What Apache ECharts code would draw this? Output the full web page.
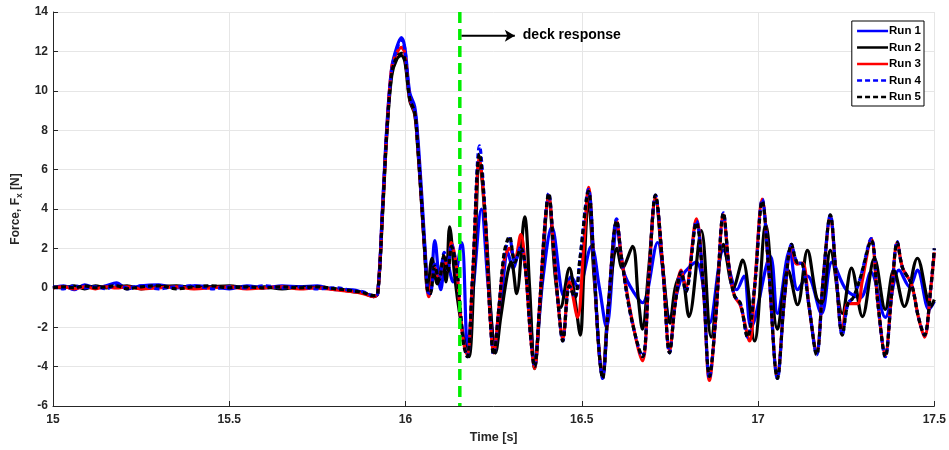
<!DOCTYPE html>
<html>
<head>
<meta charset="utf-8">
<script src="https://cdn.jsdelivr.net/npm/echarts@6/dist/echarts.min.js"></script>
<style>html,body{margin:0;padding:0;background:#fff}#c{width:949px;height:450px}</style>
</head>
<body>
<div id="c"></div>
<script>
// ---- data (time [s], force [N]) ----
const seriesNames = ['Run 1', 'Run 2', 'Run 3', 'Run 4', 'Run 5'];
const xTicks = [15, 15.5, 16, 16.5, 17, 17.5];
const yTicks = [-6, -4, -2, 0, 2, 4, 6, 8, 10, 12, 14];

const run1 = [
[15.00,0.0],[15.03,0.1],[15.06,-0.1],[15.09,0.15],[15.12,0.0],[15.15,0.1],[15.18,0.25],[15.21,-0.05],[15.25,0.1],[15.30,0.15],[15.35,0.0],[15.40,0.1],[15.45,0.05],[15.50,-0.05],[15.55,0.1],[15.60,0.0],[15.65,0.1],[15.70,0.05],[15.75,0.1],[15.80,-0.1],[15.85,-0.1],[15.88,-0.25],[15.91,-0.45],
[15.921,-0.3],[15.935,4.2],[15.947,8.2],[15.961,11.2],[15.975,12.2],[15.988,12.7],[15.998,12.2],[16.012,9.9],[16.026,9.2],[16.035,7.6],[16.045,5.0],[16.054,2.4],[16.063,0.2],
[16.07,0.0],[16.083,2.4],[16.10,-0.1],[16.115,1.5],[16.135,0.3],[16.159,2.3],[16.176,-3.0],[16.195,0.5],[16.215,4.0],[16.235,0.0],[16.255,-3.0],[16.275,0.0],[16.29,1.8],[16.305,1.0],[16.325,2.0],[16.345,0.5],[16.366,-3.6],[16.39,0.5],[16.415,3.1],[16.45,-0.45],[16.47,0.55],[16.49,0.0],[16.527,2.1],[16.55,0.0],[16.57,-2.0],[16.60,3.0],[16.62,0.75],[16.65,-0.3],[16.672,-0.76],[16.715,2.3],[16.75,-1.5],[16.785,0.6],[16.825,1.3],[16.862,-1.8],[16.902,1.9],[16.94,-0.1],[16.96,0.6],[16.98,-2.0],[17.035,1.6],[17.055,-1.3],[17.09,1.9],[17.112,-0.1],[17.14,0.6],[17.18,-1.3],[17.21,1.3],[17.25,-0.1],[17.29,-0.5],[17.32,0.8],[17.361,-1.5],[17.40,0.9],[17.43,0.05],[17.452,0.9],[17.485,-1.1],[17.50,-0.7]
];

const run2 = [
[15.00,0.05],[15.03,0.0],[15.06,0.1],[15.09,-0.05],[15.12,0.1],[15.15,0.0],[15.18,0.05],[15.21,0.1],[15.25,-0.05],[15.30,0.05],[15.35,0.1],[15.40,0.0],[15.45,0.05],[15.50,0.1],[15.55,0.0],[15.60,0.05],[15.65,-0.05],[15.70,0.05],[15.75,0.0],[15.80,-0.05],[15.85,-0.2],[15.88,-0.25],[15.91,-0.45],
[15.921,-0.3],[15.935,3.8],[15.947,7.8],[15.961,10.8],[15.975,11.6],[15.988,11.8],[15.998,11.5],[16.012,9.5],[16.026,8.8],[16.035,7.0],[16.045,4.4],[16.054,1.9],[16.063,-0.2],
[16.075,1.5],[16.09,0.2],[16.105,1.3],[16.115,0.3],[16.125,3.1],[16.14,0.5],[16.155,-1.5],[16.17,-3.0],[16.18,-3.5],[16.195,1.0],[16.21,6.4],[16.228,3.0],[16.245,-2.0],[16.255,-3.3],[16.27,-1.5],[16.29,0.8],[16.30,1.3],[16.315,-0.3],[16.338,3.6],[16.352,0.0],[16.366,-4.1],[16.385,0.0],[16.406,4.6],[16.425,0.5],[16.44,-1.0],[16.465,1.0],[16.48,-0.5],[16.496,-2.4],[16.505,0.5],[16.519,4.5],[16.535,0.5],[16.559,-4.5],[16.575,-1.0],[16.60,2.0],[16.615,1.0],[16.644,2.1],[16.66,-0.5],[16.672,-2.1],[16.69,1.0],[16.709,4.5],[16.73,1.0],[16.75,-1.8],[16.765,0.0],[16.782,0.75],[16.804,-1.46],[16.839,2.9],[16.867,-2.5],[16.902,2.2],[16.93,0.0],[16.956,1.4],[16.99,-2.7],[17.022,3.2],[17.055,-2.1],[17.085,0.9],[17.112,-0.86],[17.14,1.9],[17.166,-0.5],[17.18,-0.8],[17.205,1.9],[17.239,-1.3],[17.265,1.0],[17.296,-1.46],[17.33,1.5],[17.361,-1.1],[17.385,0.9],[17.415,-0.95],[17.452,1.5],[17.49,-0.95],[17.50,-0.6]
];

const run3 = [
[15.00,0.0],[15.03,0.05],[15.06,-0.05],[15.09,0.05],[15.12,-0.05],[15.15,0.05],[15.18,0.0],[15.21,0.05],[15.25,-0.05],[15.30,0.0],[15.35,0.05],[15.40,-0.05],[15.45,0.0],[15.50,0.05],[15.55,-0.05],[15.60,0.0],[15.65,0.05],[15.70,-0.05],[15.75,0.0],[15.80,-0.1],[15.85,-0.2],[15.88,-0.3],[15.91,-0.45],
[15.921,-0.3],[15.935,4.0],[15.947,8.0],[15.961,11.2],[15.975,11.9],[15.988,12.2],[15.998,11.9],[16.012,9.6],[16.026,8.9],[16.035,7.1],[16.045,4.5],[16.054,2.0],[16.066,-0.45],
[16.083,1.0],[16.095,0.5],[16.11,1.6],[16.12,0.9],[16.13,2.3],[16.145,1.0],[16.155,-1.2],[16.165,-2.8],[16.175,-3.4],[16.19,0.4],[16.21,6.6],[16.225,3.8],[16.24,-1.5],[16.25,-3.3],[16.265,-1.0],[16.28,1.4],[16.295,2.0],[16.31,1.5],[16.327,2.7],[16.34,1.0],[16.355,-2.5],[16.366,-4.1],[16.38,-1.0],[16.395,3.1],[16.406,4.7],[16.42,2.0],[16.435,-1.2],[16.446,-2.6],[16.465,0.3],[16.488,-1.5],[16.505,2.0],[16.519,5.1],[16.535,1.0],[16.548,-3.0],[16.559,-4.5],[16.575,-1.0],[16.599,3.4],[16.612,1.6],[16.64,-1.4],[16.672,-3.7],[16.69,0.5],[16.709,4.6],[16.73,1.0],[16.749,-3.2],[16.765,-0.8],[16.782,0.9],[16.795,0.0],[16.825,3.5],[16.845,0.0],[16.862,-4.7],[16.88,-1.5],[16.902,3.7],[16.918,1.0],[16.933,-0.4],[16.95,-0.9],[16.976,-2.7],[16.99,0.0],[17.012,4.5],[17.03,1.0],[17.055,-4.5],[17.075,-0.5],[17.095,2.1],[17.11,1.2],[17.126,1.25],[17.145,-1.0],[17.166,-3.3],[17.185,0.5],[17.205,3.6],[17.222,0.5],[17.239,-2.3],[17.255,-0.8],[17.282,-0.8],[17.295,0.3],[17.321,2.5],[17.34,-0.8],[17.361,-3.4],[17.378,-0.5],[17.395,2.3],[17.41,1.0],[17.435,0.2],[17.455,-1.5],[17.472,-2.5],[17.49,0.0],[17.50,1.8]
];

const run4 = [
[15.00,0.05],[15.03,-0.05],[15.06,0.1],[15.09,0.0],[15.12,0.05],[15.15,-0.05],[15.18,0.15],[15.21,0.0],[15.25,0.1],[15.30,-0.05],[15.35,0.05],[15.40,0.1],[15.45,-0.05],[15.50,0.05],[15.55,0.0],[15.60,0.1],[15.65,0.0],[15.70,0.05],[15.75,-0.05],[15.80,0.0],[15.85,-0.15],[15.88,-0.2],[15.91,-0.4],
[15.921,-0.3],[15.935,4.1],[15.947,8.0],[15.961,11.1],[15.975,12.1],[15.988,12.6],[15.998,12.1],[16.012,9.7],[16.026,9.0],[16.035,7.2],[16.045,4.6],[16.054,2.1],[16.063,-0.2],
[16.07,-0.3],[16.083,1.2],[16.095,0.5],[16.11,1.8],[16.12,0.9],[16.13,2.2],[16.145,1.0],[16.155,-1.0],[16.165,-2.8],[16.175,-3.5],[16.19,0.5],[16.21,7.2],[16.225,4.0],[16.24,-1.5],[16.25,-3.4],[16.265,-1.0],[16.28,1.6],[16.295,2.5],[16.31,1.3],[16.327,2.1],[16.34,1.0],[16.355,-2.5],[16.366,-4.0],[16.38,-1.0],[16.395,3.2],[16.406,4.8],[16.42,2.0],[16.435,-1.2],[16.446,-2.7],[16.465,0.1],[16.48,-0.5],[16.495,1.5],[16.519,5.0],[16.535,1.0],[16.548,-3.0],[16.559,-4.6],[16.575,-1.0],[16.599,3.5],[16.612,1.6],[16.64,-1.5],[16.672,-3.5],[16.69,0.5],[16.709,4.7],[16.73,1.0],[16.749,-3.3],[16.765,-0.8],[16.782,0.8],[16.795,-0.2],[16.825,3.4],[16.845,0.0],[16.862,-4.6],[16.88,-1.5],[16.902,3.8],[16.918,1.0],[16.933,-0.4],[16.95,-0.8],[16.97,-2.5],[16.99,0.0],[17.012,4.5],[17.03,1.0],[17.055,-4.6],[17.075,-0.5],[17.095,2.2],[17.11,1.3],[17.126,1.2],[17.145,-1.0],[17.166,-3.4],[17.185,0.5],[17.205,3.7],[17.222,0.5],[17.239,-2.4],[17.255,-0.8],[17.27,-0.5],[17.29,0.5],[17.321,2.5],[17.34,-0.8],[17.361,-3.5],[17.378,-0.5],[17.395,2.35],[17.41,1.0],[17.435,0.2],[17.455,-1.5],[17.472,-2.4],[17.49,0.0],[17.50,2.0]
];

const run5 = [
[15.00,0.0],[15.03,0.05],[15.06,0.0],[15.09,0.1],[15.12,0.0],[15.15,0.05],[15.18,0.1],[15.21,-0.05],[15.25,0.05],[15.30,0.1],[15.35,-0.05],[15.40,0.05],[15.45,0.1],[15.50,0.0],[15.55,0.05],[15.60,0.0],[15.65,0.05],[15.70,0.0],[15.75,0.05],[15.80,-0.05],[15.85,-0.15],[15.88,-0.25],[15.91,-0.4],
[15.921,-0.3],[15.935,3.9],[15.947,7.9],[15.961,10.9],[15.975,11.7],[15.988,11.9],[15.998,11.6],[16.012,9.6],[16.026,8.9],[16.035,7.1],[16.045,4.5],[16.054,2.0],[16.063,-0.2],
[16.07,-0.3],[16.083,1.1],[16.095,0.4],[16.11,1.7],[16.12,0.8],[16.13,2.1],[16.145,0.9],[16.155,-1.1],[16.165,-2.9],[16.175,-3.5],[16.19,0.5],[16.21,6.8],[16.225,3.9],[16.24,-1.5],[16.25,-3.4],[16.265,-1.0],[16.28,1.8],[16.295,2.6],[16.31,1.3],[16.327,2.0],[16.34,1.0],[16.355,-2.5],[16.366,-4.0],[16.38,-1.0],[16.395,3.1],[16.406,4.8],[16.42,2.0],[16.435,-1.2],[16.446,-2.7],[16.465,0.1],[16.48,-0.5],[16.495,1.5],[16.519,4.9],[16.535,1.0],[16.548,-3.0],[16.559,-4.6],[16.575,-1.0],[16.599,3.4],[16.612,1.6],[16.64,-1.5],[16.672,-3.5],[16.69,0.5],[16.709,4.7],[16.73,1.0],[16.749,-3.3],[16.765,-0.8],[16.782,0.8],[16.795,-0.2],[16.825,3.3],[16.845,0.0],[16.862,-4.5],[16.88,-1.5],[16.902,3.8],[16.918,1.0],[16.933,-0.4],[16.95,-0.8],[16.97,-2.5],[16.99,0.0],[17.012,4.4],[17.03,1.0],[17.055,-4.6],[17.075,-0.5],[17.095,2.2],[17.11,1.3],[17.126,1.2],[17.145,-1.0],[17.166,-3.4],[17.185,0.5],[17.205,3.7],[17.222,0.5],[17.239,-2.4],[17.255,-0.8],[17.27,-0.5],[17.29,0.5],[17.321,2.4],[17.34,-0.8],[17.361,-3.5],[17.378,-0.5],[17.395,2.3],[17.41,1.0],[17.435,0.2],[17.455,-1.5],[17.472,-2.4],[17.49,0.0],[17.50,2.0]
];

const deckTime = 16.154;
const deckLineY = [14, -6];
const arrowStart = [16.159, 12.8];
const arrowEnd = [16.31, 12.8];
const annotationText = 'deck response';

// ---- chart ----
const chart = echarts.init(document.getElementById('c'), null, {renderer: 'canvas'});
const font = 'Liberation Sans, Arial, Helvetica, sans-serif';
const axisColor = '#262626';

function runSeries(name, data, color, dashed, z) {
  return {
    name: name, type: 'line', data: data, symbol: 'none', smooth: 0.35,
    z: z,
    lineStyle: {color: color, width: 3.2, type: dashed ? [5, 3] : 'solid'},
    itemStyle: {color: color},
    emphasis: {disabled: true}
  };
}

const option = {
  animation: false,
  backgroundColor: '#fff',
  textStyle: {fontFamily: font},
  grid: {left: 53, right: 14, top: 12, bottom: 44, containLabel: false},
  legend: {
    data: seriesNames,
    orient: 'vertical',
    right: 25, top: 21,
    padding: [4, 3, 3, 4],
    itemGap: 4.5,
    itemWidth: 31, itemHeight: 11,
    borderColor: '#000', borderWidth: 1,
    backgroundColor: '#fff',
    itemStyle: {opacity: 0},
    lineStyle: {width: 2.5},
    textStyle: {fontFamily: font, fontSize: 11.5, fontWeight: 'bold', color: '#000', padding: [0, 0, 0, -4]}
  },
  xAxis: {
    type: 'value', min: 15, max: 17.5, interval: 0.5,
    name: 'Time [s]', nameLocation: 'middle', nameGap: 25,
    nameTextStyle: {fontFamily: font, fontSize: 12.5, fontWeight: 'bold', color: axisColor},
    axisLine: {show: true, onZero: false, lineStyle: {color: axisColor, width: 1}},
    axisTick: {show: true, inside: true, length: 5, lineStyle: {color: axisColor}},
    axisLabel: {fontFamily: font, fontSize: 12, fontWeight: 'bold', color: axisColor, margin: 8,
      formatter: v => xTicks.indexOf(v) >= 0 ? String(v) : ''},
    splitLine: {show: true, lineStyle: {color: '#e6e6e6', width: 1}}
  },
  yAxis: {
    type: 'value', min: -6, max: 14, interval: 2,
    name: '{a|Force, F}{s|x}{a| [N]}', nameLocation: 'middle', nameGap: 22, nameRotate: 90,
    nameTextStyle: {
      color: axisColor,
      rich: {
        a: {fontFamily: font, fontSize: 12, fontWeight: 'bold', color: axisColor},
        s: {fontFamily: font, fontSize: 8.5, fontWeight: 'bold', color: axisColor, padding: [7, 0, 0, 0]}
      }
    },
    axisLine: {show: true, lineStyle: {color: axisColor, width: 1}},
    axisTick: {show: true, inside: true, length: 5, lineStyle: {color: axisColor}},
    axisLabel: {fontFamily: font, fontSize: 12, fontWeight: 'bold', color: axisColor, margin: 5,
      formatter: v => yTicks.indexOf(v) >= 0 ? String(v) : ''},
    splitLine: {show: true, lineStyle: {color: '#e6e6e6', width: 1}}
  },
  series: [
    runSeries('Run 1', run1, '#0000ff', false, 2),
    runSeries('Run 2', run2, '#000000', false, 3),
    runSeries('Run 3', run3, '#ff0000', false, 4),
    runSeries('Run 4', run4, '#0000ff', true, 5),
    runSeries('Run 5', run5, '#000000', true, 6),
    {
      name: 'deck', type: 'line', symbol: 'none', z: 7, silent: true,
      data: deckLineY.map(y => [deckTime, y]),
      lineStyle: {color: '#00ee00', width: 3.5, type: [11, 6]}
    },
    {
      name: 'arrow', type: 'line', symbol: 'none', z: 8, silent: true,
      data: [
        {value: arrowStart, symbol: 'none'},
        {value: arrowEnd, symbol: 'arrow', symbolSize: [9, 10], symbolRotate: -90,
         itemStyle: {color: '#000'},
         label: {show: true, position: 'right', distance: 8, formatter: annotationText,
                 fontFamily: font, fontSize: 14, fontWeight: 'bold', color: '#000'}}
      ],
      showSymbol: true,
      lineStyle: {color: '#000', width: 2}
    }
  ]
};
chart.setOption(option);
</script>
</body>
</html>
